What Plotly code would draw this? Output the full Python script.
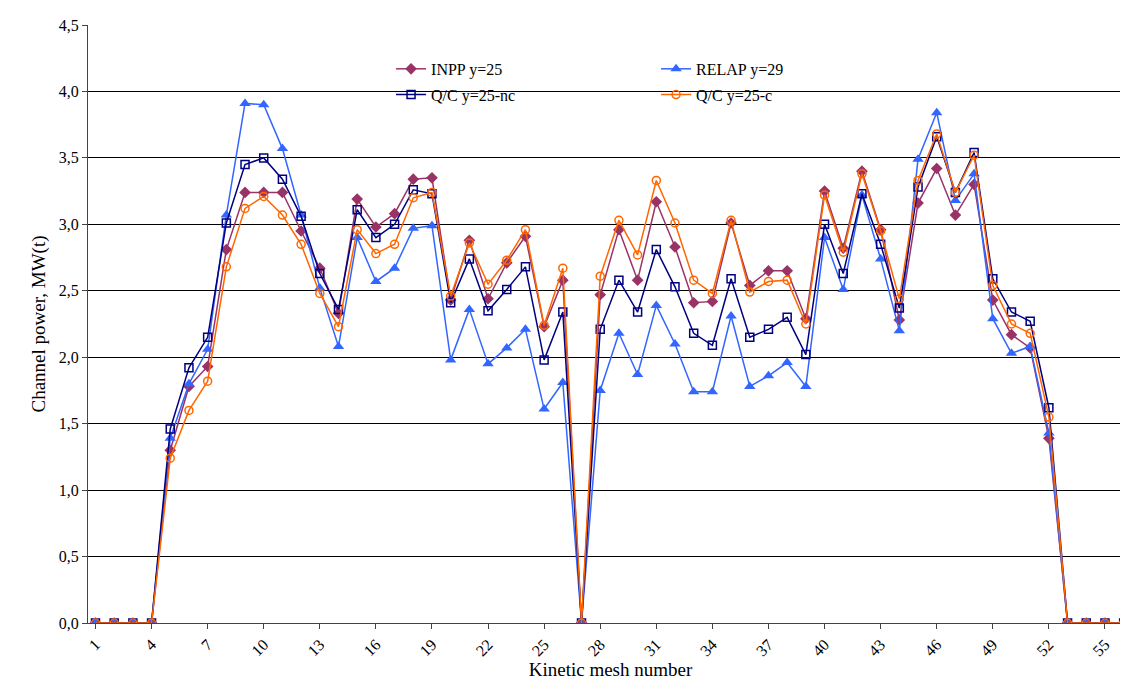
import plotly.graph_objects as go

x = list(range(1, 57))
Z4 = [0, 0, 0, 0]
inpp = Z4 + [1.30,1.78,1.93,2.81,3.24,3.24,3.24,2.95,2.67,2.33,3.19,2.98,3.08,3.34,3.35,2.43,2.88,2.44,2.71,2.91,2.23,2.58,0,
             2.47,2.96,2.58,3.17,2.83,2.41,2.42,3.01,2.54,2.65,2.65,2.29,3.25,2.82,3.40,2.96,2.28,3.16,3.42,3.07,3.30,2.43,2.17,2.07,1.39] + Z4
relap = Z4 + [1.39,1.80,2.06,3.07,3.91,3.90,3.57,3.07,2.52,2.08,2.90,2.57,2.67,2.97,2.99,1.98,2.36,1.95,2.07,2.21,1.61,1.81,0,
              1.75,2.18,1.87,2.39,2.10,1.74,1.74,2.31,1.78,1.86,1.96,1.78,2.90,2.51,3.22,2.74,2.20,3.49,3.84,3.18,3.38,2.29,2.03,2.08,1.43] + Z4
qc_nc = Z4 + [1.46,1.92,2.15,3.01,3.45,3.50,3.34,3.06,2.63,2.36,3.11,2.90,3.00,3.26,3.23,2.41,2.74,2.35,2.51,2.68,1.98,2.34,0,
              2.21,2.58,2.34,2.81,2.53,2.18,2.09,2.59,2.15,2.21,2.30,2.02,3.00,2.63,3.23,2.85,2.37,3.28,3.66,3.24,3.54,2.59,2.34,2.27,1.62] + Z4
qc_c = Z4 + [1.24,1.60,1.82,2.68,3.12,3.21,3.07,2.85,2.48,2.23,2.96,2.78,2.85,3.20,3.24,2.46,2.86,2.55,2.73,2.96,2.24,2.67,0,
             2.61,3.03,2.77,3.33,3.01,2.58,2.48,3.03,2.49,2.57,2.58,2.25,3.22,2.79,3.38,2.95,2.44,3.33,3.68,3.24,3.52,2.54,2.25,2.18,1.55] + Z4

xticks = list(range(1, 57, 3))
yticks = [i * 0.5 for i in range(10)]
ylabels = [f"{v:.1f}".replace(".", ",") for v in yticks]

fig = go.Figure()
series = [
    ("INPP y=25", inpp, "#993366", dict(symbol="diamond", size=9, color="#993366"), "legend"),
    ("RELAP y=29", relap, "#3366FF", dict(symbol="triangle-up", size=10, color="#3366FF"), "legend"),
    ("Q/C y=25-nc", qc_nc, "#000080", dict(symbol="square-open", size=8, color="#000080", line=dict(width=1.5)), "legend2"),
    ("Q/C y=25-c", qc_c, "#FF6600", dict(symbol="circle-open", size=8, color="#FF6600", line=dict(width=1.5)), "legend2"),
]
for name, y, c, m, lg in series:
    fig.add_trace(go.Scatter(x=x, y=y, name=name, mode="lines+markers", legend=lg,
                             line=dict(color=c, width=1.5), marker=m))

leg = dict(orientation="h", x=0.29, xanchor="left", yanchor="top", entrywidth=220,
           bgcolor="rgba(255,255,255,0)", font=dict(size=16), tracegroupgap=0)
fig.update_layout(
    width=1128, height=700, paper_bgcolor="white", plot_bgcolor="white",
    margin=dict(l=80, r=3, t=17, b=85),
    font=dict(family="Liberation Serif", size=16, color="black"),
    legend=dict(leg, y=0.955),
    legend2=dict(leg, y=0.912),
)
fig.update_xaxes(range=[0.6, 56.5], tickmode="array", tickvals=xticks,
                 ticktext=[str(t) for t in xticks], tickangle=-45, showgrid=False,
                 showline=True, linecolor="#444", ticks="outside", ticklen=5,
                 title=dict(text="Kinetic mesh number", standoff=4))
fig.update_yaxes(range=[0, 4.5], tickmode="array", tickvals=yticks, ticktext=ylabels,
                 showgrid=True, gridcolor="black", gridwidth=1, showline=True,
                 linecolor="#444", ticks="outside", ticklen=5, zeroline=False,
                 title=dict(text="Channel power, MW(t)", standoff=8))
fig.write_html("out.html")
